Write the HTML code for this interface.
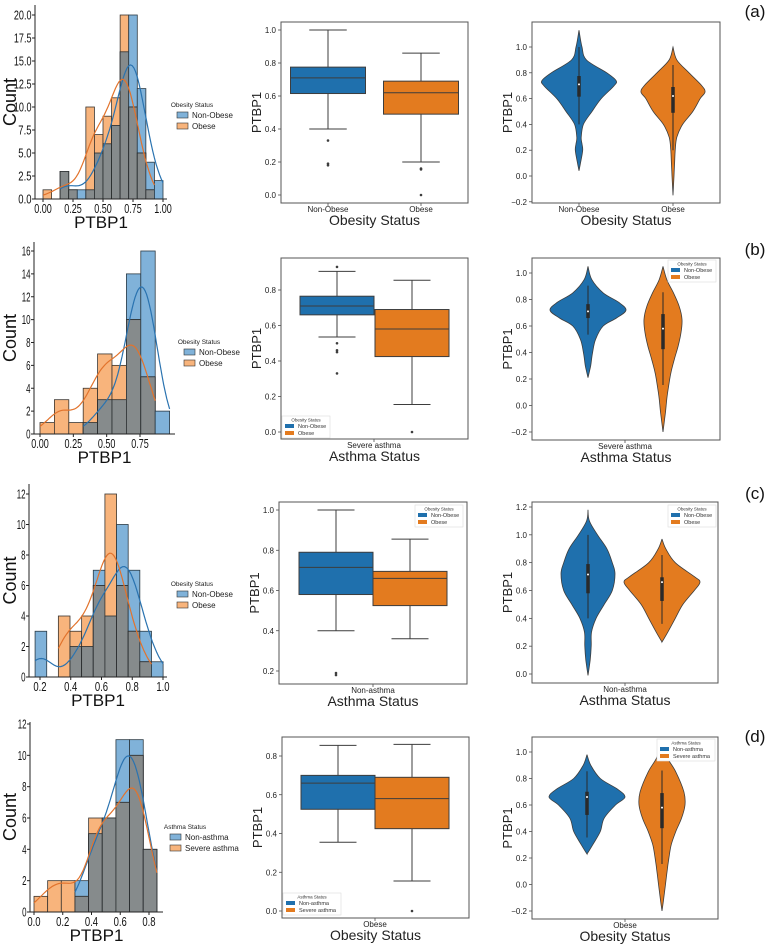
<!DOCTYPE html>
<html><head><meta charset="utf-8"><style>
html,body{margin:0;padding:0;background:#fff;}
svg{display:block;font-family:"Liberation Sans",sans-serif;}
</style></head><body>
<svg id="fig" width="767" height="945" viewBox="0 0 767 945" xmlns="http://www.w3.org/2000/svg"></svg>
<script>
// ---------- DATA ----------
const histStart=[0,0,0.168,0];
const histWidth=[1/14,0.108,0.0757,0.095];
const histBlueA=[0,0,3,1,1,1,5,6,8,16,20,12,4,2];
const histOrangeA=[1,0,3,1,0,10,7,9,11,20,10,5,1,0];
const histBlueB=[0,0,0,1,3,3,14,16,2];
const histOrangeB=[1,3,1,4,7,6,10,5,0];
const histBlueC=[3,0,0,2,2,7,4,10,7,3,1];
const histOrangeC=[0,0,4,3,4,6,12,6,3,1,0];
const histBlueD=[0,0,0,2,5,6,11,11,4];
const histOrangeD=[1,2,2,1,6,6,7,10,4];
const histXTicksA=[0,0.25,0.5,0.75,1.0];
const histXTicksB=[0,0.25,0.5,0.75];
const histXTicksC=[0.2,0.4,0.6,0.8,1.0];
const histXTicksD=[0,0.2,0.4,0.6,0.8];
const histYTicksA=[0,2.5,5,7.5,10,12.5,15,17.5,20];
const histYTicksB=[0,2,4,6,8,10,12,14,16];
const histYTicksC=[0,2,4,6,8,10,12];
const histYTicksD=[0,2,4,6,8,10,12];
// box stats: [whislo,q1,med,q3,whishi]
const boxBlueA=[0.40,0.615,0.71,0.775,1.0], boxOrangeA=[0.20,0.49,0.62,0.69,0.86];
const outBlueA=[0.33,0.19,0.18], outOrangeA=[0.16,0.155,0.0];
const boxBlueB=[0.535,0.66,0.71,0.765,0.905], boxOrangeB=[0.155,0.425,0.58,0.69,0.855];
const outBlueB=[0.93,0.50,0.46,0.45,0.33], outOrangeB=[0.0];
const boxBlueC=[0.40,0.58,0.715,0.79,1.0], boxOrangeC=[0.36,0.525,0.66,0.695,0.855];
const outBlueC=[0.19,0.18], outOrangeC=[];
const boxBlueD=[0.355,0.525,0.66,0.70,0.855], boxOrangeD=[0.155,0.425,0.58,0.69,0.86];
const outBlueD=[], outOrangeD=[0.0];
const boxYTicksA=[0,0.2,0.4,0.6,0.8,1.0];
const boxYTicksB=[0,0.2,0.4,0.6,0.8];
const boxYTicksC=[0.2,0.4,0.6,0.8,1.0];
const boxYTicksD=[0,0.2,0.4,0.6,0.8];
const vioYTicksA=[-0.2,0,0.2,0.4,0.6,0.8,1.0];
const vioYTicksB=[-0.2,0,0.2,0.4,0.6,0.8,1.0];
const vioYTicksC=[0,0.2,0.4,0.6,0.8,1.0,1.2];
const vioYTicksD=[-0.2,0,0.2,0.4,0.6,0.8,1.0];
// violin density profiles: values and relative widths
const vioValBlueA=[1.13,1.0,0.9,0.8,0.74,0.7,0.6,0.5,0.4,0.3,0.25,0.2,0.1,0.04];
const vioWBlueA=[0,0.08,0.2,0.75,1,0.95,0.6,0.35,0.12,0.06,0.08,0.1,0.04,0];
const vioValOrangeA=[1.0,0.9,0.8,0.7,0.65,0.6,0.5,0.4,0.3,0.2,0.1,0,-0.15];
const vioWOrangeA=[0,0.12,0.5,0.9,1,0.85,0.62,0.3,0.12,0.07,0.05,0.03,0];
const vioValBlueB=[1.05,0.95,0.85,0.78,0.72,0.66,0.6,0.5,0.4,0.3,0.21];
const vioWBlueB=[0,0.1,0.4,0.8,1,0.75,0.4,0.2,0.12,0.07,0];
const vioValOrangeB=[1.05,0.95,0.85,0.75,0.65,0.55,0.45,0.35,0.25,0.15,0.05,-0.05,-0.2];
const vioWOrangeB=[0,0.2,0.55,0.85,1,0.95,0.8,0.6,0.42,0.3,0.2,0.13,0];
const vioValBlueC=[1.18,1.1,1.0,0.9,0.8,0.72,0.6,0.5,0.4,0.3,0.2,0.1,-0.01];
const vioWBlueC=[0,0.05,0.35,0.7,0.9,1,0.9,0.6,0.3,0.13,0.12,0.08,0];
const vioValOrangeC=[0.97,0.9,0.8,0.7,0.66,0.6,0.5,0.4,0.3,0.23];
const vioWOrangeC=[0,0.1,0.35,0.85,1,0.85,0.55,0.35,0.15,0];
const vioValBlueD=[0.98,0.9,0.8,0.72,0.66,0.6,0.5,0.4,0.3,0.23];
const vioWBlueD=[0,0.1,0.35,0.8,1,0.75,0.45,0.35,0.15,0];
const vioValOrangeD=[1.05,0.95,0.85,0.7,0.6,0.5,0.4,0.3,0.2,0.1,0,-0.1,-0.2];
const vioWOrangeD=[0,0.25,0.6,0.95,1,0.85,0.6,0.4,0.3,0.22,0.15,0.08,0];

// ---------- HELPERS ----------
const NS='http://www.w3.org/2000/svg';
const svg=document.getElementById('fig');
function mk(tag,attrs,parent){const e=document.createElementNS(NS,tag);for(const k in attrs)e.setAttribute(k,attrs[k]);(parent||svg).appendChild(e);return e;}
function txt(s,attrs,parent){const e=mk('text',attrs,parent);e.textContent=s;return e;}
const BLUE='#1f70ad', ORANGE='#e37b1f';
const LBLUE='#80b2d9', LORANGE='#f8b47c', GREY='#868b8c';
const CW=4.4;
function fmt(v,d){return v.toFixed(d).replace('-','\u2212');}
function smoothPath(pts){
  let d='M'+pts[0][0]+','+pts[0][1];
  for(let i=0;i<pts.length-1;i++){
    const p0=pts[Math.max(0,i-1)],p1=pts[i],p2=pts[i+1],p3=pts[Math.min(pts.length-1,i+2)];
    const c1=[p1[0]+(p2[0]-p0[0])/6,p1[1]+(p2[1]-p0[1])/6];
    const c2=[p2[0]-(p3[0]-p1[0])/6,p2[1]-(p3[1]-p1[1])/6];
    d+=' C'+c1[0].toFixed(1)+','+c1[1].toFixed(1)+' '+c2[0].toFixed(1)+','+c2[1].toFixed(1)+' '+p2[0].toFixed(1)+','+p2[1].toFixed(1);
  }
  return d;
}
function narrow(s,attrs,parent){
  const e=txt(s,attrs,parent);
  e.setAttribute('textLength',(s.length*CW).toFixed(1));
  e.setAttribute('lengthAdjust','spacingAndGlyphs');
  return e;
}

// ---------- HISTOGRAM ----------
function histogram(cfg){
  const g=mk('g',{});
  
  
  const X=v=>cfg.xp0+(v-cfg.xv0)*(cfg.xp1-cfg.xp0)/(cfg.xv1-cfg.xv0);
  const Y=c=>cfg.y0+(c)*(cfg.yTop-cfg.y0)/cfg.yMaxV;
  const n=cfg.blue.length;
  for(let i=0;i<n;i++){
    const l=X(cfg.start+i*cfg.width), r=X(cfg.start+(i+1)*cfg.width);
    const b=cfg.blue[i], o=cfg.orange[i], m=Math.min(b,o);
    if(b>0){const e=mk('rect',{x:l,y:Y(b),width:r-l,height:cfg.y0-Y(b),fill:LBLUE,stroke:'#2b3a44','stroke-width':0.8},g);
      
      }
    if(o>0){const e=mk('rect',{x:l,y:Y(o),width:r-l,height:cfg.y0-Y(o),fill:LORANGE,stroke:'#3a3530','stroke-width':0.8},g);
      
      }
    if(m>0){const e=mk('rect',{x:l,y:Y(m),width:r-l,height:cfg.y0-Y(m),fill:GREY,stroke:'#2a2e30','stroke-width':0.8},g);
      
      }
  }
  [[cfg.blue,'#2a73b0'],[cfg.orange,'#e2732c']].forEach(([arr,col],k)=>{
    let lo=null,hi=null;
    arr.forEach((c,i)=>{if(c>0){if(lo===null)lo=i;hi=i;}});
    const vmin=cfg.start+lo*cfg.width, vmax=cfg.start+(hi+1)*cfg.width;
    const bw=cfg.bw;
    const pts=[];
    for(let s=0;s<=60;s++){
      const v=vmin+(vmax-vmin)*s/60;
      let d=0;
      arr.forEach((c,i)=>{const ctr=cfg.start+(i+0.5)*cfg.width;d+=c*Math.exp(-0.5*((v-ctr)/bw)**2)/(bw*Math.sqrt(2*Math.PI));});
      pts.push([X(v).toFixed(1),Y(d*cfg.width).toFixed(1)]);
    }
    const p=mk('polyline',{points:pts.map(q=>q.join(',')).join(' '),fill:'none',stroke:col,'stroke-width':1.2},g);
    
    
  });
  const sp=mk('path',{d:'M'+cfg.spL+','+cfg.spT+' V'+cfg.y0+' H'+cfg.spR,fill:'none',stroke:'#222','stroke-width':1},g);
  
  
  cfg.xt.forEach(v=>{
    mk('line',{x1:X(v),x2:X(v),y1:cfg.y0,y2:cfg.y0+3,stroke:'#222'},g);
    const s=v.toFixed(cfg.xd);
    const t=narrow(s,{x:X(v)-s.length*CW/2,y:cfg.y0+14,'font-size':13,fill:'#111'},g);
    
    
  });
  cfg.yt.forEach(v=>{
    mk('line',{x1:cfg.spL-3,x2:cfg.spL,y1:Y(v),y2:Y(v),stroke:'#222'},g);
    const s=v.toFixed(cfg.yd);
    const t=narrow(s,{x:cfg.spL-3.5-s.length*CW,y:Y(v)+4.5,'font-size':13,fill:'#111'},g);
    
    
  });
  const xl=txt('PTBP1',{x:(cfg.spL+cfg.spR)/2,y:cfg.y0+29,'font-size':17,'text-anchor':'middle',fill:'#111'},g);
  
  
  const yc=(cfg.spT+cfg.y0)/2;
  const yl=txt('Count',{x:10,y:yc,'font-size':18,'text-anchor':'middle',transform:'rotate(-90 10 '+yc+')',dy:6,fill:'#111'},g);
  
  
  const lg=mk('g',{},g);
  
  
  txt(cfg.legTitle,{x:cfg.lx+15,y:cfg.ly,'font-size':6.5,'text-anchor':'middle',fill:'#222'},lg);
  cfg.legItems.forEach((s,i)=>{
    const yy=cfg.ly+8+i*11;
    mk('rect',{x:cfg.lx,y:yy-3,width:11,height:6,fill:i?LORANGE:LBLUE,stroke:'#333','stroke-width':0.6},lg);
    const t=txt(s,{x:cfg.lx+15,y:yy+3,'font-size':8,fill:'#222'},lg);
    
    
  });
}

// ---------- FRAME ----------
function frame(f,yt,xtick,xlab,name){
  const g=mk('g',{});
  
  
  const Y=v=>f.yp0+(v-f.yv0)*(f.yp1-f.yp0)/(f.yv1-f.yv0);
  yt.forEach(v=>{
    mk('line',{x1:f.l-3,x2:f.l,y1:Y(v),y2:Y(v),stroke:'#333','stroke-width':0.7},g);
    const t=txt(fmt(v,1),{x:f.l-5,y:Y(v)+3,'font-size':8,'text-anchor':'end',fill:'#222'},g);
    
    
  });
  xtick.forEach(([s,x])=>{
    mk('line',{x1:x,x2:x,y1:f.b,y2:f.b+3,stroke:'#333','stroke-width':0.7},g);
    const t=txt(s,{x:x,y:f.b+9,'font-size':8,'text-anchor':'middle',fill:'#222'},g);
    
    
  });
  const xl=txt(xlab,{x:(f.l+f.r)/2,y:f.b+22,'font-size':14,'text-anchor':'middle',fill:'#222'},g);
  
  
  const yc=(f.t+f.b)/2, yx=f.l-20;
  const yl=txt('PTBP1',{x:yx,y:yc,'font-size':13,'text-anchor':'middle',transform:'rotate(-90 '+yx+' '+yc+')',fill:'#222'},g);
  
  
  return {g,Y};
}
function border(f,g){
  const r=mk('rect',{x:f.l,y:f.t,width:f.r-f.l,height:f.b-f.t,fill:'none',stroke:'#555','stroke-width':1},g);
  
  
}
function boxLegend(g,x,y,title,items){
  const lg=mk('g',{},g);
  
  
  const w=items[1].length>8?58:48;
  mk('rect',{x:x,y:y,width:w,height:22,fill:'#fff',stroke:'#ddd','stroke-width':0.6},lg);
  txt(title,{x:x+w/2,y:y+5.5,'font-size':4.5,'text-anchor':'middle',fill:'#333'},lg);
  items.forEach((s,i)=>{
    mk('rect',{x:x+3,y:y+8+i*7,width:9,height:4,fill:i?ORANGE:BLUE},lg);
    const t=txt(s,{x:x+16,y:y+12+i*7,'font-size':5.5,fill:'#333'},lg);
    
    
  });
}
function boxplot(f,cfg){
  const {g,Y}=frame(f,cfg.yt,cfg.xticks,cfg.xlab,cfg.name);
  [[cfg.sb,cfg.ob,cfg.cb,BLUE,'blue'],[cfg.so,cfg.oo,cfg.co,ORANGE,'orange']].forEach(([s,out,c,col,nm])=>{
    const hw=cfg.hw, cap=cfg.hw/2;
    const bg=mk('g',{},g);
    
    
    mk('line',{x1:c,x2:c,y1:Y(s[0]),y2:Y(s[1]),stroke:'#3d3d3d','stroke-width':1},bg);
    mk('line',{x1:c,x2:c,y1:Y(s[3]),y2:Y(s[4]),stroke:'#3d3d3d','stroke-width':1},bg);
    mk('line',{x1:c-cap,x2:c+cap,y1:Y(s[0]),y2:Y(s[0]),stroke:'#3d3d3d','stroke-width':1},bg);
    mk('line',{x1:c-cap,x2:c+cap,y1:Y(s[4]),y2:Y(s[4]),stroke:'#3d3d3d','stroke-width':1},bg);
    mk('rect',{x:c-hw,y:Y(s[3]),width:2*hw,height:Y(s[1])-Y(s[3]),fill:col,stroke:'#3d3d3d','stroke-width':1},bg);
    mk('line',{x1:c-hw,x2:c+hw,y1:Y(s[2]),y2:Y(s[2]),stroke:'#3d3d3d','stroke-width':1},bg);
    out.forEach(v=>{const e=mk('circle',{cx:c,cy:Y(v),r:1.3,fill:'#3d3d3d'},bg);
      
      });
  });
  if(cfg.leg)boxLegend(g,cfg.leg[0],cfg.leg[1],cfg.leg[2],cfg.leg[3]);
  border(f,g);
}
function violin(f,cfg){
  const {g,Y}=frame(f,cfg.yt,cfg.xticks,cfg.xlab,cfg.name);
  [[cfg.vb,cfg.wb,cfg.cb,cfg.hwb,cfg.sb,BLUE,'blue'],[cfg.vo,cfg.wo,cfg.co,cfg.hwo,cfg.so,ORANGE,'orange']].forEach(([vals,ws,c,hw,s,col,nm])=>{
    const right=vals.map((v,i)=>[c+ws[i]*hw,Y(v)]);
    const left=vals.map((v,i)=>[c-ws[i]*hw,Y(v)]).reverse();
    const d=smoothPath(right)+' L'+smoothPath(left).slice(1)+' Z';
    const p=mk('path',{d:d,fill:col,stroke:'#3d3d3d','stroke-width':0.8},g);
    
    
    mk('line',{x1:c,x2:c,y1:Y(s[0]),y2:Y(s[4]),stroke:'#2a2a2a','stroke-width':1},g);
    mk('line',{x1:c,x2:c,y1:Y(s[1]),y2:Y(s[3]),stroke:'#2a2a2a','stroke-width':3.5},g);
    mk('circle',{cx:c,cy:Y(s[2]),r:1,fill:'#fff'},g);
  });
  if(cfg.leg)boxLegend(g,cfg.leg[0],cfg.leg[1],cfg.leg[2],cfg.leg[3]);
  border(f,g);
}

// ---------- BUILD ----------
histogram({name:'histogram-a',blue:histBlueA,orange:histOrangeA,start:histStart[0],width:histWidth[0],bw:0.085,
  xv0:0,xv1:1,xp0:43,xp1:163,y0:199,yTop:15,yMaxV:20,spL:35,spT:5,spR:167,xt:histXTicksA,xd:2,yt:histYTicksA,yd:1,
  lx:177,ly:107,legTitle:'Obesity Status',legItems:['Non-Obese','Obese']});
histogram({name:'histogram-b',blue:histBlueB,orange:histOrangeB,start:histStart[1],width:histWidth[1],bw:0.085,
  xv0:0,xv1:0.75,xp0:40,xp1:140,y0:434,yTop:251,yMaxV:16,spL:34,spT:242,spR:175,xt:histXTicksB,xd:2,yt:histYTicksB,yd:0,
  lx:184,ly:344,legTitle:'Obesity Status',legItems:['Non-Obese','Obese']});
histogram({name:'histogram-c',blue:histBlueC,orange:histOrangeC,start:histStart[2],width:histWidth[2],bw:0.075,
  xv0:0.2,xv1:1.0,xp0:40,xp1:163,y0:677,yTop:494,yMaxV:12,spL:29,spT:484,spR:167,xt:histXTicksC,xd:1,yt:histYTicksC,yd:0,
  lx:177,ly:586,legTitle:'Obesity Status',legItems:['Non-Obese','Obese']});
histogram({name:'histogram-d',blue:histBlueD,orange:histOrangeD,start:histStart[3],width:histWidth[3],bw:0.075,
  xv0:0,xv1:0.8,xp0:34,xp1:149,y0:912,yTop:724,yMaxV:12,spL:30,spT:722,spR:163,xt:histXTicksD,xd:1,yt:histYTicksD,yd:0,
  lx:170,ly:829,legTitle:'Asthma Status',legItems:['Non-asthma','Severe asthma']});

boxplot({l:281,r:468,t:22,b:203,yv0:0,yv1:1,yp0:195,yp1:30},
  {name:'boxplot-a',yt:boxYTicksA,xticks:[['Non-Obese',328],['Obese',421]],xlab:'Obesity Status',
   sb:boxBlueA,ob:outBlueA,cb:328,so:boxOrangeA,oo:outOrangeA,co:421,hw:37.5});
boxplot({l:281,r:468,t:258,b:439,yv0:0,yv1:0.8,yp0:432,yp1:290},
  {name:'boxplot-b',yt:boxYTicksB,xticks:[['Severe asthma',374]],xlab:'Asthma Status',
   sb:boxBlueB,ob:outBlueB,cb:337,so:boxOrangeB,oo:outOrangeB,co:412,hw:37,
   leg:[282,416,'Obesity Status',['Non-Obese','Obese']]});
boxplot({l:279,r:467,t:502,b:684,yv0:0.2,yv1:1.0,yp0:671,yp1:510},
  {name:'boxplot-c',yt:boxYTicksC,xticks:[['Non-asthma',373]],xlab:'Asthma Status',
   sb:boxBlueC,ob:outBlueC,cb:336,so:boxOrangeC,oo:outOrangeC,co:410,hw:37,
   leg:[415,505,'Obesity Status',['Non-Obese','Obese']]});
boxplot({l:282,r:469,t:737,b:918,yv0:0,yv1:0.8,yp0:911,yp1:756},
  {name:'boxplot-d',yt:boxYTicksD,xticks:[['Obese',375]],xlab:'Obesity Status',
   sb:boxBlueD,ob:outBlueD,cb:338,so:boxOrangeD,oo:outOrangeD,co:412,hw:37,
   leg:[283,893,'Asthma Status',['Non-asthma','Severe asthma']]});

violin({l:532,r:720,t:22,b:203,yv0:0,yv1:1,yp0:176,yp1:47},
  {name:'violin-a',yt:vioYTicksA,xticks:[['Non-Obese',579],['Obese',673]],xlab:'Obesity Status',
   vb:vioValBlueA,wb:vioWBlueA,cb:579,hwb:37,sb:boxBlueA,vo:vioValOrangeA,wo:vioWOrangeA,co:673,hwo:32,so:boxOrangeA});
violin({l:532,r:720,t:258,b:440,yv0:-0.2,yv1:1,yp0:432,yp1:273},
  {name:'violin-b',yt:vioYTicksB,xticks:[['Severe asthma',625]],xlab:'Asthma Status',
   vb:vioValBlueB,wb:vioWBlueB,cb:588,hwb:38,sb:boxBlueB,vo:vioValOrangeB,wo:vioWOrangeB,co:663,hwo:19,so:boxOrangeB,
   leg:[668,260,'Obesity Status',['Non-Obese','Obese']]});
violin({l:532,r:718,t:502,b:683,yv0:0,yv1:1.2,yp0:674,yp1:507},
  {name:'violin-c',yt:vioYTicksC,xticks:[['Non-asthma',625]],xlab:'Asthma Status',
   vb:vioValBlueC,wb:vioWBlueC,cb:588,hwb:27,sb:boxBlueC,vo:vioValOrangeC,wo:vioWOrangeC,co:662,hwo:38,so:boxOrangeC,
   leg:[668,505,'Obesity Status',['Non-Obese','Obese']]});
violin({l:532,r:718,t:737,b:919,yv0:-0.2,yv1:1,yp0:911,yp1:752},
  {name:'violin-d',yt:vioYTicksD,xticks:[['Obese',625]],xlab:'Obesity Status',
   vb:vioValBlueD,wb:vioWBlueD,cb:587,hwb:38,sb:boxBlueD,vo:vioValOrangeD,wo:vioWOrangeD,co:662,hwo:23,so:boxOrangeD,
   leg:[657,739,'Asthma Status',['Non-asthma','Severe asthma']]});

[['(a)',12],['(b)',250],['(c)',494],['(d)',737]].forEach(([s,y])=>{
  const t=txt(s,{x:755,y:y+5,'font-size':17,'text-anchor':'middle',fill:'#111'});
  
  
});
</script>
</body></html>
